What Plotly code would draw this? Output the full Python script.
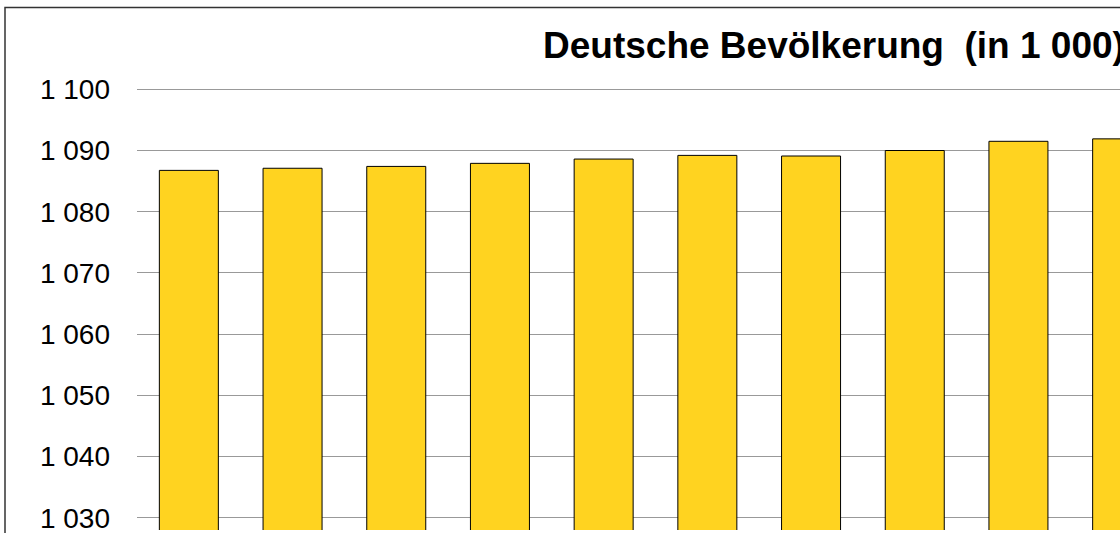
import plotly.graph_objects as go

# Data
categories = ["2002", "2003", "2004", "2005", "2006", "2007", "2008", "2009", "2010", "2011"]
values = [1086.75, 1087.1, 1087.4, 1087.9, 1088.6, 1089.2, 1089.1, 1090.0, 1091.5, 1091.9]
y_ticks = [1030, 1040, 1050, 1060, 1070, 1080, 1090, 1100]
title_text = "Deutsche Bevölkerung\u00a0\u00a0(in 1 000)"

W, H = 1120, 533
L, T = 137, 85
plot_w = W - L
plot_h = H - T

fig = go.Figure()
fig.add_trace(go.Bar(
    x=list(range(len(categories))),
    y=values,
    marker=dict(color="#FFD320", line=dict(color="#000000", width=1)),
    hoverinfo="skip",
))

fig.update_layout(
    width=W, height=H,
    margin=dict(l=L, r=0, t=T, b=0, pad=0),
    paper_bgcolor="white", plot_bgcolor="white",
    separators=". ",
    bargap=0.431,
    showlegend=False,
    font=dict(family="Liberation Sans, Arial, sans-serif", color="black"),
)
fig.update_xaxes(
    range=[-0.5, -0.5 + plot_w / 103.7],
    tickvals=list(range(len(categories))), ticktext=categories,
    showticklabels=False, showgrid=False, zeroline=False, showline=False,
)
fig.update_yaxes(
    range=[1028.0, 1100.7],
    tickvals=y_ticks, tickformat=",d",
    tickfont=dict(size=28, family="Liberation Sans, Arial, sans-serif", color="black"),
    ticks="", ticklabelstandoff=26, ticklabeloverflow="allow",
    showgrid=True, gridcolor="#999999", gridwidth=1,
    zeroline=False, showline=False,
)

# chart frame (top-left corner visible)
fig.add_shape(type="rect", xref="paper", yref="paper",
              x0=(5 - L) / plot_w, x1=(1300 - L) / plot_w,
              y0=(H - 700) / plot_h, y1=(H - 7) / plot_h,
              line=dict(color="#333333", width=1.5), fillcolor="rgba(0,0,0,0)", layer="above")

fig.add_annotation(
    text=title_text, xref="paper", yref="paper",
    x=(541 - L) / plot_w, y=(H - 45) / plot_h,
    xanchor="left", yanchor="middle", showarrow=False,
    font=dict(size=37, family="Liberation Sans, Arial, sans-serif", color="black", weight="bold"),
)

fig.write_html("out.html", config={"displayModeBar": False},
               post_script="document.body.style.margin='0';")
